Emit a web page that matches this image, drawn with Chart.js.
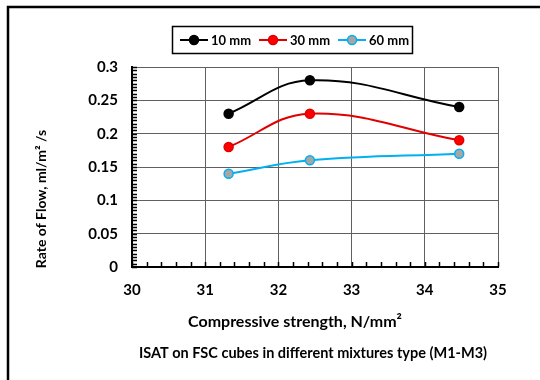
<!DOCTYPE html>
<html>
<head>
<meta charset="utf-8">
<script src="https://cdn.jsdelivr.net/npm/chart.js@4/dist/chart.umd.min.js"></script>
<style>
  html, body { margin: 0; padding: 0; background: #fff; }
  #wrap { width: 540px; height: 380px; position: relative; }
</style>
</head>
<body>
<div id="wrap"><canvas id="flowChart"></canvas></div>
<script>
// values
const strength = [31.32, 32.43, 34.47];
const flow10 = [0.23, 0.28, 0.24];
const flow30 = [0.18, 0.23, 0.19];
const flow60 = [0.14, 0.16, 0.17];
const seriesLabels = ['10 mm', '30 mm', '60 mm'];
const xTicks = [30, 31, 32, 33, 34, 35];
const yTicks = [0, 0.05, 0.1, 0.15, 0.2, 0.25, 0.3];

const FONT = 'Lato, "Open Sans", sans-serif';

const toPoints = (ys) => strength.map((x, i) => ({x: x, y: ys[i]}));

const makeSet = (label, ys, line, fill) => ({
  label: label,
  data: toPoints(ys),
  borderColor: line,
  backgroundColor: fill,
  pointBackgroundColor: fill,
  pointBorderColor: line,
  pointBorderWidth: 1.5,
  pointRadius: 4.5,
  borderWidth: 2,
  tension: 0.4,
  showLine: true
});

// minor ticks, legend box, titles and frame
const decor = {
  id: 'decor',
  beforeDatasetsDraw(chart) {
    const ctx = chart.ctx, x = chart.scales.x, y = chart.scales.y;
    ctx.save();
    ctx.strokeStyle = '#000';
    ctx.lineWidth = 1.5;
    ctx.beginPath();
    for (let i = 0; i <= 60; i++) {
      const py = Math.round(y.getPixelForValue(i * 0.005)) + 0.5;
      ctx.moveTo(x.left, py);
      ctx.lineTo(x.left + 5, py);
    }
    for (let i = 0; i <= 25; i++) {
      const px = Math.round(x.getPixelForValue(30 + i * 0.2)) + 0.5;
      ctx.moveTo(px, y.bottom);
      ctx.lineTo(px, y.bottom - 5);
    }
    ctx.stroke();
    ctx.restore();
  },
  afterDraw(chart) {
    const ctx = chart.ctx;
    ctx.save();

    // outer frame (top and left only are visible in the crop)
    ctx.strokeStyle = '#000';
    ctx.lineWidth = 2.5;
    ctx.beginPath();
    ctx.moveTo(8, 390);
    ctx.lineTo(8, 7);
    ctx.lineTo(550, 7);
    ctx.stroke();

    // legend
    ctx.lineWidth = 1.5;
    ctx.strokeRect(172.5, 26.5, 240, 27);
    ctx.font = 'bold 13px ' + FONT;
    ctx.textBaseline = 'middle';
    ctx.textAlign = 'left';
    let lx = 180;
    const ly = 40;
    chart.data.datasets.forEach(ds => {
      ctx.strokeStyle = ds.borderColor;
      ctx.lineWidth = 2;
      ctx.beginPath();
      ctx.moveTo(lx, ly);
      ctx.lineTo(lx + 28, ly);
      ctx.stroke();
      ctx.beginPath();
      ctx.arc(lx + 14, ly, 4.5, 0, Math.PI * 2);
      ctx.fillStyle = ds.pointBackgroundColor;
      ctx.fill();
      ctx.lineWidth = 1.5;
      ctx.stroke();
      ctx.fillStyle = '#000';
      ctx.fillText(ds.label, lx + 31, ly + 1);
      lx += 31 + ctx.measureText(ds.label).width + 8;
    });

    // axis titles
    ctx.fillStyle = '#000';
    ctx.textAlign = 'center';
    ctx.font = 'bold 16px ' + FONT;
    ctx.fillText('Compressive strength, N/mm\u00B2', 295, 322);
    ctx.font = 'bold 14.5px ' + FONT;
    ctx.fillText('ISAT on FSC cubes in different mixtures type (M1-M3)', 313, 353);

    ctx.translate(41, 199);
    ctx.rotate(-Math.PI / 2);
    ctx.font = 'bold 14px ' + FONT;
    ctx.fillText('Rate of Flow, ml/m\u00B2 /s', 0, 0);
    ctx.restore();
  }
};

new Chart('flowChart', {
  type: 'scatter',
  data: {
    datasets: [
      makeSet(seriesLabels[0], flow10, '#000000', '#000000'),
      makeSet(seriesLabels[1], flow30, '#e00000', '#ff0000'),
      makeSet(seriesLabels[2], flow60, '#00b0f0', '#a6a6a6')
    ]
  },
  options: {
    responsive: true,
    maintainAspectRatio: false,
    animation: false,
    layout: {padding: {left: 10, right: 42, top: 67, bottom: 0}},
    plugins: {
      legend: {display: false},
      tooltip: {enabled: false}
    },
    scales: {
      x: {
        type: 'linear',
        min: 30,
        max: 35,
        afterBuildTicks: (scale) => { scale.ticks = xTicks.map(v => ({value: v})); },
        afterFit: (scale) => { scale.height = 113; },
        ticks: {
          color: '#000',
          padding: 14,
          font: {family: FONT, size: 15, weight: 'bold'}
        },
        grid: {color: '#606060', lineWidth: 1, drawTicks: false},
        border: {display: true, color: '#000', width: 2}
      },
      y: {
        type: 'linear',
        min: 0,
        max: 0.3,
        afterBuildTicks: (scale) => { scale.ticks = yTicks.map(v => ({value: v})); },
        afterFit: (scale) => { scale.width = 122; },
        ticks: {
          color: '#000',
          padding: 14,
          font: {family: FONT, size: 15, weight: 'bold'},
          callback: (v) => String(Math.round(v * 100) / 100)
        },
        grid: {color: '#606060', lineWidth: 1, drawTicks: false},
        border: {display: true, color: '#000', width: 2}
      }
    }
  },
  plugins: [decor]
});
</script>
</body>
</html>
